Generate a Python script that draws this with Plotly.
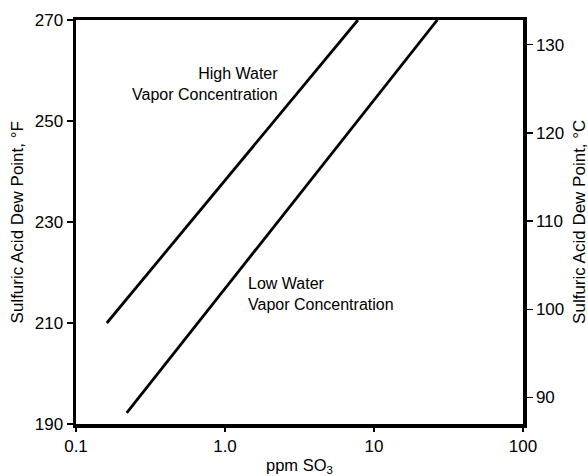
import plotly.graph_objects as go

# Data
high_x = [0.161, 7.8]
high_y = [210, 270]
low_x = [0.219, 26.6]
low_y = [192.2, 270]

x_tickvals = [0.1, 1, 10, 100]
x_ticktext = ["0.1", "1.0", "10", "100"]
yF_tickvals = [190, 210, 230, 250, 270]
yC_tickvals = [90, 100, 110, 120, 130]

FONT = "Liberation Sans, Arial, Helvetica, sans-serif"

fig = go.Figure()
fig.add_trace(go.Scatter(x=high_x, y=high_y, mode="lines",
                         line=dict(color="black", width=2.8),
                         showlegend=False, hoverinfo="skip"))
fig.add_trace(go.Scatter(x=low_x, y=low_y, mode="lines",
                         line=dict(color="black", width=2.8),
                         showlegend=False, hoverinfo="skip"))
# invisible trace to activate the °C axis
fig.add_trace(go.Scatter(x=low_x, y=[(v - 32) / 1.8 for v in low_y], mode="lines",
                         line=dict(color="rgba(0,0,0,0)", width=0),
                         yaxis="y2", showlegend=False, hoverinfo="skip"))

fig.update_layout(
    width=588, height=476,
    margin=dict(l=76, r=65, t=20, b=52),
    paper_bgcolor="white", plot_bgcolor="white",
    font=dict(family=FONT, size=16, color="black"),
    hovermode=False,
    xaxis=dict(type="log", range=[-1, 2], tickvals=x_tickvals, ticktext=x_ticktext,
               showgrid=False, zeroline=False, showline=True, linecolor="black",
               linewidth=3.5, mirror=True, ticks="outside", ticklen=4, tickwidth=1.5,
               tickcolor="black", tickfont=dict(size=17)),
    yaxis=dict(range=[190, 270], tickvals=yF_tickvals,
               showgrid=False, zeroline=False, showline=True, linecolor="black",
               linewidth=3.5, mirror=True, ticks="outside", ticklen=6, tickwidth=1.5,
               tickcolor="black", tickfont=dict(size=17)),
    yaxis2=dict(range=[87.0, 132.8], tickvals=yC_tickvals, overlaying="y", side="right",
                showgrid=False, zeroline=False, showline=True, linecolor="black",
                linewidth=3.5, ticks="outside", ticklen=6, tickwidth=1.5,
                tickcolor="black", tickfont=dict(size=17)),
    annotations=[
        dict(text="High Water<br>Vapor Concentration", x=0.369, y=257.4,
             xref="x", yref="y", showarrow=False, align="right", xanchor="right",
             yanchor="middle", font=dict(size=16)),
        dict(text="Low Water<br>Vapor Concentration", x=0.141, y=215.7,
             xref="x", yref="y", showarrow=False, align="left", xanchor="left",
             yanchor="middle", font=dict(size=16)),
        dict(text="Sulfuric Acid Dew Point, °F", x=-0.131, y=0.5, xref="paper",
             yref="paper", showarrow=False, textangle=-90, xanchor="center",
             yanchor="middle", font=dict(size=17)),
        dict(text="Sulfuric Acid Dew Point, °C", x=1.125, y=0.5, xref="paper",
             yref="paper", showarrow=False, textangle=-90, xanchor="center",
             yanchor="middle", font=dict(size=17)),
        dict(text="ppm SO<sub>3</sub>", x=0.5, y=-0.104, xref="paper",
             yref="paper", showarrow=False, xanchor="center", yanchor="middle",
             font=dict(size=16.5)),
    ],
)

# remove the default 8px page margin so the figure fills the window exactly
fig.write_html("out.html",
               config={"displayModeBar": False, "staticPlot": True},
               post_script="document.body.style.margin='0';"
                           "document.body.style.overflow='hidden';")
